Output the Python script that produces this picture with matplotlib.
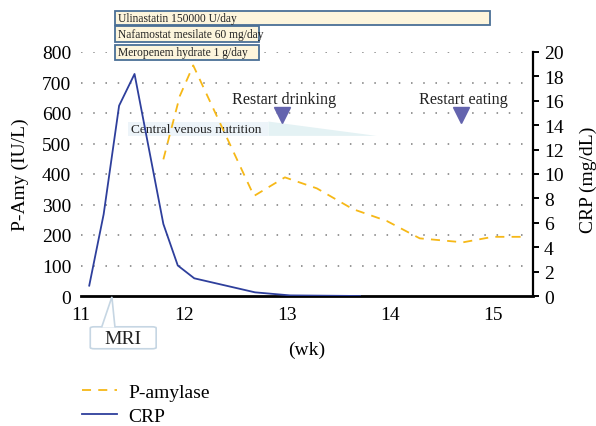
import matplotlib
matplotlib.use("Agg")
import matplotlib.pyplot as plt
from matplotlib.patches import Rectangle, Polygon, FancyBboxPatch

plt.rcParams['font.family'] = ['Liberation Serif', 'DejaVu Serif']

# data (x in weeks)
amy_wk = [11.80, 11.96, 12.09, 12.68, 12.98, 13.29, 13.64, 13.97, 14.29, 14.71, 15.00, 15.33]
amy_val = [448, 656, 756, 328, 389, 353, 285, 246, 189, 176, 194, 194]   # IU/L

crp_wk = [11.08, 11.22, 11.37, 11.52, 11.80, 11.94, 12.10, 12.69, 13.03, 13.71]
crp_val = [0.85, 6.7, 15.6, 18.2, 5.9, 2.5, 1.45, 0.3, 0.05, 0.0]         # mg/dL

drugs = ['Ulinastatin 150000 U/day', 'Nafamostat mesilate 60 mg/day', 'Meropenem hydrate 1 g/day']
drug_start = [11.33, 11.33, 11.33]
drug_end = [14.97, 12.73, 12.73]
drug_lo = [889, 833, 774]
drug_hi = [934, 885, 823]

events = ['Restart drinking', 'Restart eating']
event_wk = [12.95, 14.69]

mri_wk = 11.30
cvn_start, cvn_mid, cvn_end = 11.46, 12.82, 13.87

W, H = 596, 427
fig = plt.figure(figsize=(W / 100, H / 100), dpi=100)
ax = fig.add_axes([81 / W, (H - 297) / H, (533 - 81) / W, (297 - 53) / H])
ax2 = ax.twinx()

ax.set_xlim(11, 15.39)
ax.set_ylim(0, 800)
ax2.set_ylim(0, 20)

# dotted grid
for v in range(100, 801, 100):
    ax.axhline(v, color='#7a7a7a', lw=1.1, ls=(0, (1, 7.0)), zorder=0)

# central venous nutrition band
ax.add_patch(Rectangle((cvn_start, 525), cvn_mid - cvn_start, 47, facecolor='#edf4f9',
                       edgecolor='none', zorder=1))
ax.add_patch(Polygon([(cvn_mid, 572), (cvn_end, 525), (cvn_mid, 525)], closed=True,
                     facecolor='#e4f2f4', edgecolor='none', zorder=1))
ax.text(cvn_start + 0.03, 548, 'Central venous nutrition', fontsize=9.6, va='center',
        ha='left', color='#222222', zorder=2)

la, = ax.plot(amy_wk, amy_val, color='#f6b817', lw=1.3, ls=(0, (5, 4)), zorder=3,
              label='P-amylase')
lc, = ax2.plot(crp_wk, crp_val, color='#2e3f9c', lw=1.3, zorder=3, label='CRP')

# events
for name, wk in zip(events, event_wk):
    ax.plot([wk], [593], marker='v', ms=11, color='#6464ae', mec='#6464ae', zorder=4)
    ax.text(wk + 0.02, 646, name, fontsize=11.6, ha='center', va='center', color='#222222')

# drug boxes above the plot
for name, s, e, lo, hi in zip(drugs, drug_start, drug_end, drug_lo, drug_hi):
    ax.add_patch(Rectangle((s, lo), e - s, hi - lo, facecolor='#fdf5dc', edgecolor='#4a6f96',
                           lw=1.3, clip_on=False, zorder=5))
    ax.text(s + 0.03, (lo + hi) / 2, name, fontsize=8.3, ha='left', va='center',
            color='#222222', clip_on=False, zorder=6)

# MRI callout below the axis
ax.add_patch(FancyBboxPatch((11.09, -173), 0.64, 72, boxstyle='round,pad=0,rounding_size=0.04',
                            mutation_aspect=100, facecolor='white', edgecolor='#c6d6e3', lw=1.2,
                            clip_on=False, zorder=5))
ax.add_patch(Polygon([(11.20, -103), (mri_wk, -3), (11.33, -103)], closed=False,
                     facecolor='white', edgecolor='#c6d6e3', lw=1.2, clip_on=False, zorder=6))
ax.text(11.41, -140, 'MRI', fontsize=14, ha='center', va='center', color='#222222',
        clip_on=False, zorder=7)

# axes look
for a in (ax, ax2):
    a.spines['top'].set_visible(False)
    a.spines['left'].set_visible(False)
ax.spines['right'].set_visible(False)
ax2.spines['bottom'].set_visible(False)
ax.spines['bottom'].set_linewidth(2.0)
ax2.spines['right'].set_linewidth(1.6)

ax.set_xticks([11, 12, 13, 14, 15])
ax.set_yticks(range(0, 801, 100))
ax2.set_yticks(range(0, 21, 2))
ax.tick_params(axis='x', length=0, pad=7, labelsize=14)
ax.tick_params(axis='y', length=0, pad=7, labelsize=14)
ax2.tick_params(axis='y', length=4, width=1.4, pad=4, labelsize=14)

fig.text(307 / W, 1 - 350 / H, '(wk)', fontsize=14, ha='center', va='center')
fig.text(20 / W, 1 - 175 / H, 'P-Amy (IU/L)', fontsize=14, rotation=90, ha='center', va='center')
fig.text(588 / W, 1 - 180 / H, 'CRP (mg/dL)', fontsize=14, rotation=90, ha='center', va='center')

fig.legend(handles=[la, lc], loc='upper left', bbox_to_anchor=(82 / W, 1 - 384 / H),
           frameon=False, fontsize=14, handlelength=1.8, handletextpad=0.6,
           labelspacing=0.36, borderpad=0, borderaxespad=0)

fig.savefig('out.png', dpi=100)
